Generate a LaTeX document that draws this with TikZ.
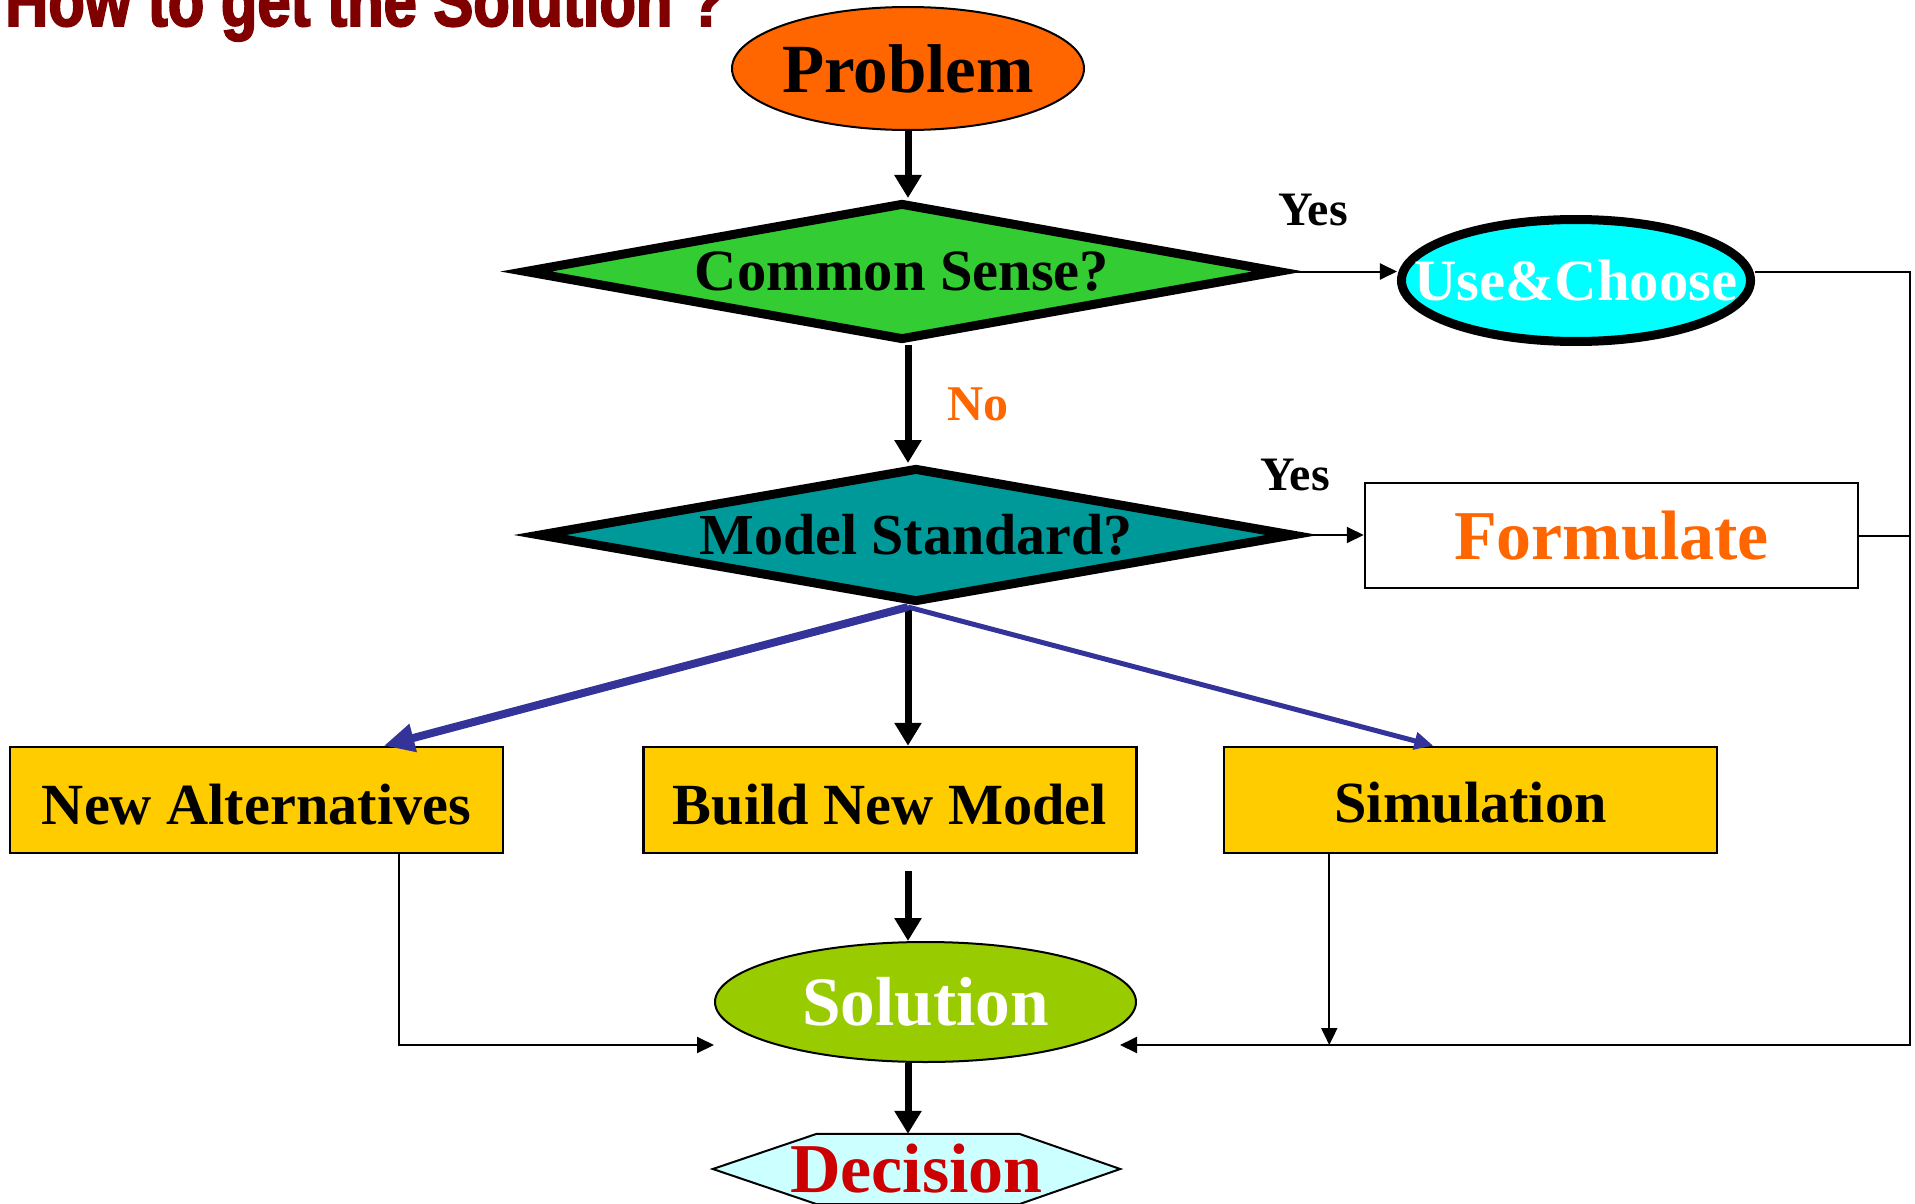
\documentclass[tikz,border=0pt]{standalone}
\usepackage{fontspec}
\setmainfont{Liberation Serif}
\newfontfamily\ttlfont[FakeStretch=0.83,FakeBold=2.5]{Liberation Sans}
\usetikzlibrary{shapes.geometric,arrows.meta,backgrounds,positioning,calc}
\definecolor{ttlred}{HTML}{800000}
\definecolor{orng}{HTML}{FF6600}
\definecolor{csgreen}{HTML}{33CC33}
\definecolor{uccyan}{HTML}{00FFFF}
\definecolor{msteal}{HTML}{009999}
\definecolor{boxyel}{HTML}{FFCC00}
\definecolor{solgreen}{HTML}{99CC00}
\definecolor{decfill}{HTML}{CCFFFF}
\definecolor{decred}{HTML}{CC0000}
\definecolor{navyb}{HTML}{333399}

\begin{document}
\begin{tikzpicture}[
x=1pt,y=-1pt,
oval/.style={
  ellipse,
  draw,
  line width=2pt,
  fill=#1,
  inner sep=0pt
  },
dia/.style={
  diamond,
  draw,
  line width=9pt,
  fill=#1,
  inner sep=0pt,
  aspect=5.4,
  minimum width=756pt,
  minimum height=138pt
  },
box/.style={
  rectangle,
  draw,
  line width=2.5pt,
  fill=#1,
  inner sep=0pt,
  text height=50pt,
  minimum width=493pt,
  minimum height=106pt,
  font=\bfseries\fontsize{58.3}{60}\selectfont
  },
lbl/.style={
  inner sep=0pt,
  font=\bfseries\fontsize{48}{50}\selectfont
  },
thk/.style={
  line width=7pt,
  -{Triangle[length=23pt,width=26pt]}
  },
thn/.style={
  line width=2pt,
  -{Triangle[length=17pt,width=16pt]}
  },
blu/.style={
  draw=navyb,
  line width=#1,
  -{Triangle[length=#1*3.8,width=#1*3.4]}
  }
]

\useasboundingbox (0,0) rectangle (1915,1204);

%title
\node[anchor=base west, inner sep=0pt, text=ttlred,
  font=\ttlfont\bfseries\fontsize{72}{76}\selectfont] (ttl) at (5,26)
  {How to get the Solution ?};

%The nodes of the main column
\node[oval=orng, inner xsep=-3pt, minimum width=352pt, minimum height=123pt,
  font=\bfseries\fontsize{69}{72}\selectfont] (prob) at (908,68.5)
  {Problem};
\node[dia=csgreen, font=\bfseries\fontsize{58.5}{60}\selectfont] (cs) at (902,271.5)
  {Common Sense?};
\node[dia=msteal, minimum height=135pt,
  font=\bfseries\fontsize{58}{60}\selectfont] (ms) at (916,535)
  {Model Standard?};

%The nodes on the right
\node[oval=uccyan, line width=9pt, inner xsep=-38pt,
  minimum width=349pt, minimum height=122pt,
  text=white, font=\bfseries\fontsize{58.7}{60}\selectfont] (uc) at (1576,280.5)
  {Use\&Choose};
\node[box=white, minimum height=105pt, text height=48pt, text=orng,
  font=\bfseries\fontsize{70}{72}\selectfont] (form) at (1611.5,535.5)
  {Formulate};

\node[lbl] (yes1) at (1313,210) {Yes};
\node[lbl] (yes2) at (1295,475) {Yes};
\node[lbl, text=orng, font=\bfseries\fontsize{50}{52}\selectfont] (no) at (978,404) {No};

%The boxes
\node[box=boxyel] (na) at (256.5,800)
  {New Alternatives\hspace{20pt}};
\node[box=boxyel] (bnm) at (890,800)
  {Build New Model\hspace{18pt}};
\node[box=boxyel, text height=45pt] (sim) at (1470.5,800)
  {Simulation};

%Bottom
\node[oval=solgreen, minimum width=421pt, minimum height=120pt,
  text=white, font=\bfseries\fontsize{69.4}{72}\selectfont] (sol) at (925.5,1002)
  {Solution};
\node[inner sep=0pt, minimum width=407pt, minimum height=70pt,
  text=decred, font=\bfseries\fontsize{70}{72}\selectfont] (dec) at (916.5,1169)
  {Decision};
\begin{scope}[on background layer]
\draw[line width=2pt, fill=decfill]
  ($(dec.north west)+(104,0)$) -- ($(dec.north east)+(-101,0)$) -- (dec.east)
  -- ($(dec.south east)+(-101,0)$) -- ($(dec.south west)+(104,0)$) -- (dec.west) -- cycle;
\end{scope}

%Aux
\coordinate (railT) at (1910,271.5);
\coordinate (railB) at (1910,1045);
\coordinate (naB) at ( $ (na.south west)!0.787!(na.south east) $ );
\coordinate (simB) at ( $ (sim.south west)!0.215!(sim.south east) $ );
\coordinate (naT) at ( $ (na.north west)!0.757!(na.north east) $ );
\coordinate (simT) at ( $ (sim.north west)!0.425!(sim.north east) $ );
\coordinate (solR) at ( $ (sol.east |- railB)+(-17,0) $ );

\draw[thk] (prob.south) -- (prob.south |- cs.north);
\draw[thk] (cs.south -| prob.south) -- (ms.north -| prob.south);
\draw[thk] (ms.south -| prob.south) -- (bnm.north -| prob.south);
\draw[thk] ( $ (bnm.south -| prob.south)+(0,17) $ ) -- (sol.north -| prob.south);
\draw[thk] (sol.south -| prob.south) -- (dec.north -| prob.south);

\draw[blu=8pt] (ms.south -| prob.south) -- (naT);
\draw[blu=5pt] (ms.south -| prob.south) -- (simT);

\draw[thn] (cs.east) -- (cs.east -| uc.west);
\draw[thn] (ms.east) -- (ms.east -| form.west);
\draw[thn] (uc.east |- cs.east) -- (railT) -- (railB) -- (solR);
\draw[line width=2pt] (form.east) -- (form.east -| railT);
\draw[thn] (naB) -- (naB |- railB) -- (sol.west |- railB);
\draw[thn] (simB) -- (simB |- railB);

\end{tikzpicture}
\end{document}
